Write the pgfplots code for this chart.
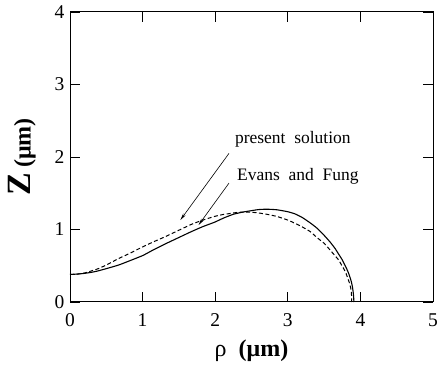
\documentclass[border=0pt]{standalone}
\usepackage{pgfplots}
\pgfplotsset{compat=1.18}
\usepackage{fontspec}
\setmainfont{Liberation Serif}
\usetikzlibrary{arrows.meta}
\pgfplotstableread{
x y
0 0.38
0.1 0.385
0.2 0.395
0.3 0.41
0.39 0.43
0.5 0.46
0.67 0.51
0.8 0.56
1.0 0.64
1.15 0.72
1.31 0.80
1.5 0.89
1.67 0.97
1.83 1.04
1.99 1.10
2.12 1.16
2.25 1.21
2.38 1.24
2.5 1.26
2.6 1.275
2.71 1.28
2.85 1.272
3.0 1.245
3.1 1.215
3.2 1.165
3.31 1.09
3.4 1.02
3.5 0.92
3.58 0.83
3.65 0.74
3.70 0.66
3.745 0.59
3.78 0.52
3.81 0.46
3.836 0.40
3.86 0.33
3.875 0.28
3.89 0.21
3.90 0.14
3.907 0.07
3.91 0.0
}\present
\pgfplotstableread{
x y
0 0.38
0.1 0.385
0.2 0.40
0.3 0.43
0.39 0.46
0.5 0.51
0.67 0.60
0.8 0.66
1.0 0.76
1.15 0.83
1.31 0.90
1.5 0.99
1.67 1.07
1.83 1.13
1.99 1.18
2.1 1.205
2.2 1.22
2.3 1.235
2.39 1.24
2.5 1.238
2.6 1.228
2.71 1.21
2.85 1.18
3.0 1.13
3.1 1.085
3.2 1.035
3.31 0.97
3.4 0.89
3.5 0.81
3.58 0.72
3.64 0.65
3.70 0.58
3.74 0.51
3.77 0.46
3.80 0.40
3.825 0.33
3.85 0.26
3.865 0.20
3.875 0.13
3.879 0.06
3.88 0.0
}\evans
\begin{document}
\begin{tikzpicture}
\begin{axis}[
  name=ax,
  scale only axis,
  width=363pt, height=290pt,
  xmin=0, xmax=5, ymin=0, ymax=4,
  xtick={0,1,2,3,4,5}, ytick={0,1,2,3,4},
  tick align=inside,
  major tick length=10pt,
  axis line style={line width=1pt},
  tick style={line width=0.8pt, black},
  /pgf/number format/assume math mode=true,
  tick label style={font=\fontsize{19.5}{19.5}\selectfont},
  xticklabel style={yshift=-8pt},
  yticklabel style={xshift=-2pt},
  xlabel={\fontsize{24}{24}\selectfont ρ\ \ \textbf{(μm)}},
  ylabel={\bfseries{\fontsize{34}{34}\selectfont Z}\ \ \fontsize{24}{24}\selectfont (μm)},
  xlabel style={yshift=-6pt},
  ylabel style={yshift=12pt},
  clip=false,
]
\addplot[black, line width=1.1pt, smooth, tension=0.3] table {\present};
\addplot[black, line width=1.0pt, smooth, tension=0.3, dash pattern=on 4pt off 2.5pt] table {\evans};
\draw[line width=0.6pt, -{Stealth[length=7pt,width=3pt]}] (axis cs:2.19,2.05) -- (axis cs:1.52,1.13);
\draw[line width=0.6pt, -{Stealth[length=7pt,width=3pt]}] (axis cs:2.19,1.64) -- (axis cs:1.77,1.06);
\node[anchor=base west, inner sep=0pt, font=\fontsize{17.5}{17.5}\selectfont] at (axis cs:2.27,2.18) {present\ \ solution};
\node[anchor=base west, inner sep=0pt, font=\fontsize{17.5}{17.5}\selectfont] at (axis cs:2.30,1.68) {Evans\ \ and\ \ Fung};
\end{axis}
\path ([xshift=-70pt,yshift=-63pt]ax.south west) rectangle ([xshift=10pt,yshift=12pt]ax.north east);
\end{tikzpicture}
\end{document}
